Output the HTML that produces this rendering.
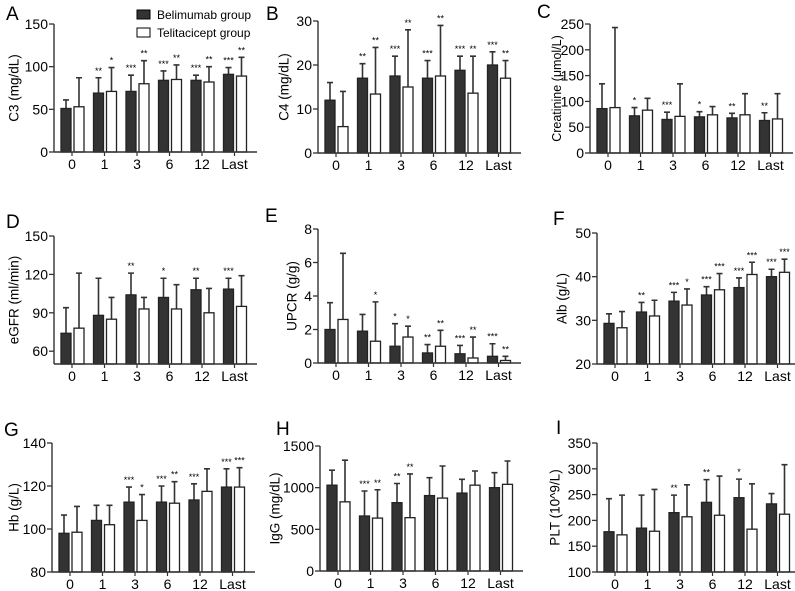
<!DOCTYPE html>
<html><head><meta charset="utf-8"><style>
html,body{margin:0;padding:0;background:#fff}
svg{display:block;font-family:"Liberation Sans",Arial,sans-serif}
</style></head><body>
<svg id="fig" width="795" height="591" viewBox="0 0 795 591" xmlns="http://www.w3.org/2000/svg">
<g>
<rect x="137" y="10" width="13" height="9" fill="#333" stroke="#000"/>
<text x="157" y="19" font-size="12">Belimumab group</text>
<rect x="137" y="28" width="13" height="9" fill="#fff" stroke="#000"/>
<text x="157" y="37" font-size="12">Telitacicept group</text>
</g>
</svg>
<script>
const categories = ["0","1","3","6","12","Last"];
// A C3
const aDark=[51,69,71,84,84,91], aDarkErr=[61,87,90,95,90,99], aWhite=[53,71,80,85,82,89], aWhiteErr=[87,99,107,102,100,111];
const aDarkStars=["","**","***","***","***","***"], aWhiteStars=["","*","**","**","**","**"];
const aTicks=[0,50,100,150];
// B C4
const bDark=[12,17,17.5,17,18.8,20], bDarkErr=[16,20.3,22,21,22,23], bWhite=[6,13.4,15,17.5,13.6,17], bWhiteErr=[14,24,28,29,22,21];
const bDarkStars=["","**","***","***","***","***"], bWhiteStars=["","**","**","**","**","**"];
const bTicks=[0,10,20,30];
// C Creatinine
const cDark=[86,72,65,70,68,63], cDarkErr=[134,88,79,80,77,78], cWhite=[88,83,71,74,74,66], cWhiteErr=[243,106,134,90,115,115];
const cDarkStars=["","*","***","*","**","**"], cWhiteStars=["","","","","",""];
const cTicks=[0,50,100,150,200,250];
// D eGFR
const dDark=[74,88,104,102,108,108.5], dDarkErr=[94,117,121,117,117,117], dWhite=[78,85,93,93,90,95], dWhiteErr=[121,102,102,112,109,119];
const dDarkStars=["","","**","*","**","***"], dWhiteStars=["","","","","",""];
const dTicks=[60,90,120,150];
// E UPCR
const eDark=[2.0,1.9,1.0,0.6,0.55,0.4], eDarkErr=[3.6,2.9,2.35,1.1,1.05,1.15], eWhite=[2.6,1.3,1.55,1.0,0.3,0.15], eWhiteErr=[6.55,3.65,2.2,1.95,1.55,0.4];
const eDarkStars=["","","*","**","***","***"], eWhiteStars=["","*","*","**","**","**"];
const eTicks=[0,2,4,6,8];
// F Alb
const fDark=[29.3,31.9,34.4,35.8,37.5,40], fDarkErr=[31.5,34.1,36.4,37.7,39.7,41.7], fWhite=[28.3,31,33.5,37,40.5,41], fWhiteErr=[32,34.6,37.2,40.7,43.3,44];
const fDarkStars=["","**","***","***","***","***"], fWhiteStars=["","","*","***","***","***"];
const fTicks=[20,30,40,50];
// G Hb
const gDark=[98,104,112.5,112.5,113.5,119.5], gDarkErr=[106.5,111,119.5,120,121,128], gWhite=[98.5,102,104,112,117.5,119.5], gWhiteErr=[110.5,111,116,122,128,128.5];
const gDarkStars=["","","***","***","***","***"], gWhiteStars=["","","*","**","","***"];
const gTicks=[80,100,120,140];
// H IgG
const hDark=[1030,660,820,905,935,1000], hDarkErr=[1210,960,1050,1120,1100,1180], hWhite=[830,635,640,875,1030,1040], hWhiteErr=[1330,975,1165,1260,1200,1320];
const hDarkStars=["","***","**","","",""], hWhiteStars=["","**","**","","",""];
const hTicks=[0,500,1000,1500];
// I PLT
const iDark=[178,185,215,235,244,232], iDarkErr=[242,249,249,279,280,252], iWhite=[172,179,207,210,183,212], iWhiteErr=[249,260,269,286,271,308];
const iDarkStars=["","","**","**","*",""], iWhiteStars=["","","","","",""];
const iTicks=[100,150,200,250,300,350];

const panels=[
 {id:"a",L:"A",t:"C3 (mg/dL)",fs:13.5,ax:54,top:24,bot:152,min:0,max:150,lx:6,ly:20,tx:14,d:aDark,de:aDarkErr,w:aWhite,we:aWhiteErr,ds:aDarkStars,ws:aWhiteStars,tk:aTicks},
 {id:"b",L:"B",t:"C4 (mg/dL)",fs:13.5,ax:318,top:21,bot:153,min:0,max:30,lx:266,ly:20,tx:284,d:bDark,de:bDarkErr,w:bWhite,we:bWhiteErr,ds:bDarkStars,ws:bWhiteStars,tk:bTicks},
 {id:"c",L:"C",t:"Creatinine (μmol/L)",fs:12.5,ax:590,top:24,bot:153,min:0,max:250,lx:537,ly:18,tx:557,d:cDark,de:cDarkErr,w:cWhite,we:cWhiteErr,ds:cDarkStars,ws:cWhiteStars,tk:cTicks},
 {id:"d",L:"D",t:"eGFR (ml/min)",fs:13.5,ax:54,top:236,bot:364,min:50,max:150,lx:6,ly:228,tx:14,d:dDark,de:dDarkErr,w:dWhite,we:dWhiteErr,ds:dDarkStars,ws:dWhiteStars,tk:dTicks},
 {id:"e",L:"E",t:"UPCR (g/g)",fs:13.5,ax:318,top:229,bot:363,min:0,max:8,lx:265,ly:222,tx:292,d:eDark,de:eDarkErr,w:eWhite,we:eWhiteErr,ds:eDarkStars,ws:eWhiteStars,tk:eTicks},
 {id:"f",L:"F",t:"Alb (g/L)",fs:13.5,ax:597,top:233,bot:364,min:20,max:50,lx:553,ly:225,tx:562,d:fDark,de:fDarkErr,w:fWhite,we:fWhiteErr,ds:fDarkStars,ws:fWhiteStars,tk:fTicks},
 {id:"g",L:"G",t:"Hb (g/L)",fs:13.5,ax:52,top:443,bot:572,min:80,max:140,lx:4,ly:436,tx:14,d:gDark,de:gDarkErr,w:gWhite,we:gWhiteErr,ds:gDarkStars,ws:gWhiteStars,tk:gTicks},
 {id:"h",L:"H",t:"IgG  (mg/dL)",fs:13.5,ax:320,top:446,bot:571,min:0,max:1500,lx:276,ly:435,tx:275,d:hDark,de:hDarkErr,w:hWhite,we:hWhiteErr,ds:hDarkStars,ws:hWhiteStars,tk:hTicks},
 {id:"i",L:"I",t:"PLT (10^9/L)",fs:13.5,ax:597,top:443,bot:572,min:100,max:350,lx:556,ly:434,tx:555,d:iDark,de:iDarkErr,w:iWhite,we:iWhiteErr,ds:iDarkStars,ws:iWhiteStars,tk:iTicks}
];
const NS="http://www.w3.org/2000/svg";
const svg=document.getElementById("fig");
function mk(tag,attrs,parent,txt){const e=document.createElementNS(NS,tag);for(const k in attrs)e.setAttribute(k,attrs[k]);if(txt!==undefined)e.textContent=txt;parent.appendChild(e);return e;}
panels.forEach(p=>{
 const g=mk("g",{},svg);
 
 
 const y=v=>p.bot-(v-p.min)/(p.max-p.min)*(p.bot-p.top);
 const cx=i=>p.ax+18+32.5*i;
 const lt=mk("text",{x:p.lx,y:p.ly,"font-size":19},g,p.L);
 
 
 const mid=(p.top+p.bot)/2;
 const tt=mk("text",{x:p.tx,y:mid,"font-size":p.fs,"text-anchor":"middle","dominant-baseline":"central",transform:`rotate(-90 ${p.tx} ${mid})`},g,p.t);
 
 
 categories.forEach((c,i)=>{
  const c0=cx(i);
  [[p.d[i],p.de[i],p.ds[i],c0-11,"#333","dark"],[p.w[i],p.we[i],p.ws[i],c0+2,"#fff","white"]].forEach(([v,e,s,x0,fill,nm])=>{
   const bx=x0+5;
   const er=mk("path",{d:`M${bx} ${y(v)}V${y(e)}M${bx-3} ${y(e)}H${bx+3}`,stroke:"#333","stroke-width":1.6,fill:"none"},g);
   
   
   const r=mk("rect",{x:x0,y:y(v),width:10,height:p.bot-y(v),fill:fill,stroke:"#222","stroke-width":1.3},g);
   
   
   if(s){const st=mk("text",{x:bx,y:y(e)-4,"font-size":9,"text-anchor":"middle"},g,s);
    
    }
  });
  const xl=mk("text",{x:c0,y:p.bot+17,"font-size":14,"text-anchor":"middle"},g,c);
  
  
  const xt=mk("line",{x1:c0,x2:c0,y1:p.bot,y2:p.bot+4,stroke:"#333","stroke-width":1.2},g);
  
  
 });
 p.tk.forEach(t=>{
  const tl=mk("line",{x1:p.ax-5,x2:p.ax,y1:y(t),y2:y(t),stroke:"#333","stroke-width":1.3},g);
  
  
  const tx=mk("text",{x:p.ax-6,y:y(t)+5,"font-size":14,"text-anchor":"end"},g,t);
  
  
 });
 const yax=mk("line",{x1:p.ax,x2:p.ax,y1:p.top,y2:p.bot,stroke:"#333","stroke-width":1.4},g);
 
 
 const xax=mk("line",{x1:p.ax,x2:Math.min(p.ax+203,795),y1:p.bot,y2:p.bot,stroke:"#333","stroke-width":1.4},g);
 
 
});
</script>
</body></html>
